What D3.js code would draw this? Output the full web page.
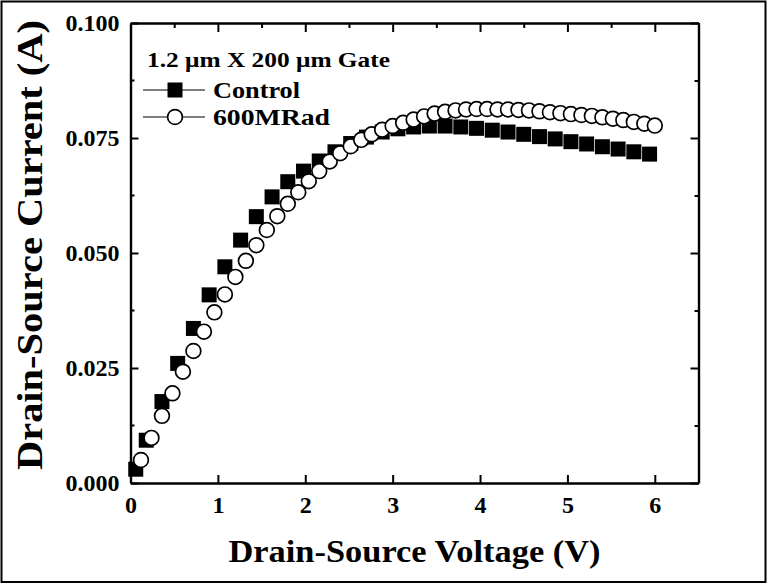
<!DOCTYPE html>
<html>
<head>
<meta charset="utf-8">
<script src="https://cdn.jsdelivr.net/npm/d3@7"></script>
<style>
  body { margin: 0; background: #fff; }
  text { font-family: "Liberation Serif", "Times New Roman", serif; font-weight: bold; fill: #000; }
</style>
</head>
<body>
<svg id="chart"></svg>
<script>
// Control device: filled squares (V, A)
const controlV = [0.06, 0.18, 0.36, 0.54, 0.72, 0.90, 1.08, 1.26, 1.44, 1.62, 1.80,
  1.98, 2.16, 2.34, 2.52, 2.70, 2.88, 3.06, 3.24, 3.42, 3.60, 3.78, 3.96, 4.14,
  4.32, 4.50, 4.68, 4.86, 5.04, 5.22, 5.40, 5.58, 5.76, 5.94];
const controlI = [0.0030, 0.0093, 0.0177, 0.0260, 0.0336, 0.0409, 0.0470, 0.0528, 0.0579, 0.0622, 0.0655,
  0.0678, 0.0700, 0.0720, 0.0738, 0.0752, 0.0763, 0.0770, 0.0774, 0.0776, 0.0776, 0.0774, 0.0771, 0.0767,
  0.0763, 0.0758, 0.0753, 0.0748, 0.0742, 0.0737, 0.0731, 0.0726, 0.0720, 0.0715];

// 600 MRad irradiated device: open circles
const radV = [0.12, 0.24, 0.36, 0.48, 0.60, 0.72, 0.84, 0.96, 1.08, 1.20,
  1.32, 1.44, 1.56, 1.68, 1.80, 1.92, 2.04, 2.16, 2.28, 2.40,
  2.52, 2.64, 2.76, 2.88, 3.00, 3.12, 3.24, 3.36, 3.48, 3.60,
  3.72, 3.84, 3.96, 4.08, 4.20, 4.32, 4.44, 4.56, 4.68, 4.80,
  4.92, 5.04, 5.16, 5.28, 5.40, 5.52, 5.64, 5.76, 5.88, 6.00];
const radI = [0.0050, 0.0098, 0.0146, 0.0195, 0.0242, 0.0287, 0.0329, 0.0371, 0.0410, 0.0448,
  0.0483, 0.0517, 0.0550, 0.0580, 0.0607, 0.0632, 0.0656, 0.0678, 0.0699, 0.0717,
  0.0732, 0.0746, 0.0758, 0.0768, 0.0776, 0.0783, 0.0790, 0.0797, 0.0803, 0.0807,
  0.0810, 0.0812, 0.0813, 0.0813, 0.0812, 0.0812, 0.0811, 0.0810, 0.0808, 0.0806,
  0.0804, 0.0802, 0.0800, 0.0798, 0.0795, 0.0792, 0.0789, 0.0785, 0.0781, 0.0777];

const xTicks = [0, 1, 2, 3, 4, 5, 6];
const yTicks = [0, 0.025, 0.05, 0.075, 0.1];
const xLabel = "Drain-Source Voltage (V)";
const yLabel = "Drain-Source Current (A)";
const legendTitle = "1.2 \u03bcm X 200 \u03bcm Gate";
const seriesNames = ["Control", "600MRad"];

const w = 767, h = 584;
const margin = { left: 130.5, right: 68.5, top: 23, bottom: 101 };

const svg = d3.select("#chart").attr("width", w).attr("height", h);

// outer frame
svg.append("rect")
  .attr("x", 1.5).attr("y", 1.5)
  .attr("width", w - 3).attr("height", h - 3.5)
  .attr("fill", "none").attr("stroke", "#000").attr("stroke-width", 2);

const x = d3.scaleLinear().domain([0, 6.5]).range([margin.left, w - margin.right]);
const y = d3.scaleLinear().domain([0, 0.1]).range([h - margin.bottom, margin.top]);

const fmt = d3.format(".3f");
const minorX = d3.range(0, 6.51, 0.5);
const minorY = d3.range(0, 0.1001, 0.0125);
const isMajorY = d => Math.abs(d / 0.025 - Math.round(d / 0.025)) < 1e-6;

// axes (ticks pointing inward)
const axBottom = svg.append("g").attr("transform", `translate(0,${y(0)})`)
  .call(d3.axisBottom(x).tickValues(xTicks).tickSizeInner(-8).tickSizeOuter(0).tickPadding(13).tickFormat(d3.format("d")));
const axTop = svg.append("g").attr("transform", `translate(0,${y(0.1)})`)
  .call(d3.axisTop(x).tickValues(minorX).tickSizeInner(0).tickSizeOuter(0).tickFormat(""));
const axLeft = svg.append("g").attr("transform", `translate(${x(0)},0)`)
  .call(d3.axisLeft(y).tickValues(yTicks).tickSizeInner(-8).tickSizeOuter(0).tickPadding(11).tickFormat(fmt));
const axRight = svg.append("g").attr("transform", `translate(${x(6.5)},0)`)
  .call(d3.axisRight(y).tickValues(minorY).tickSizeInner(0).tickSizeOuter(0).tickFormat(""));

// top/right ticks: majors longer, minors shorter
axTop.selectAll(".tick line").attr("y2", d => Number.isInteger(d) ? 9 : 5);
axRight.selectAll(".tick line").attr("x2", d => isMajorY(d) ? -8 : -4);

// left minor ticks
axLeft.selectAll(".minor").data(minorY.filter(d => !isMajorY(d)))
  .enter().append("line")
  .attr("class", "minor")
  .attr("x1", 0).attr("x2", 4)
  .attr("y1", d => y(d)).attr("y2", d => y(d))
  .attr("stroke", "#000").attr("stroke-width", 2);

[axBottom, axTop, axLeft, axRight].forEach(g => {
  g.select(".domain").attr("stroke", "#000").attr("stroke-width", 2.4);
  g.selectAll(".tick line").attr("stroke", "#000").attr("stroke-width", 2);
  g.selectAll(".tick text").attr("font-family", "Liberation Serif").attr("font-weight", "bold")
    .attr("font-size", 24).attr("fill", "#000");
});

// axis titles
svg.append("text")
  .attr("x", (x(0) + x(6.5)) / 2).attr("y", 562)
  .attr("text-anchor", "middle").attr("font-size", 31)
  .attr("textLength", 372).attr("lengthAdjust", "spacingAndGlyphs")
  .text(xLabel);

svg.append("text")
  .attr("transform", `translate(42,${(20 + 470) / 2}) rotate(-90)`)
  .attr("text-anchor", "middle").attr("font-size", 36)
  .attr("textLength", 450).attr("lengthAdjust", "spacingAndGlyphs")
  .text(yLabel);

const sq = 15, rad = 7.4;
const controlPts = controlV.map((v, i) => ({ v, i: controlI[i] }));
const radPts = radV.map((v, i) => ({ v, i: radI[i] }));

// control squares
svg.append("g").selectAll("rect").data(controlPts).enter().append("rect")
  .attr("x", d => x(d.v) - sq / 2).attr("y", d => y(d.i) - sq / 2)
  .attr("width", sq).attr("height", sq).attr("fill", "#000");

// irradiated circles on top
svg.append("g").selectAll("circle").data(radPts).enter().append("circle")
  .attr("cx", d => x(d.v)).attr("cy", d => y(d.i)).attr("r", rad)
  .attr("fill", "#fff").attr("stroke", "#000").attr("stroke-width", 1.7);

// legend
const lg = svg.append("g");
lg.append("text").attr("x", 147).attr("y", 67).attr("font-size", 22)
  .attr("textLength", 243).attr("lengthAdjust", "spacingAndGlyphs").text(legendTitle);

const rows = [{ y: 90, name: seriesNames[0], len: 87 }, { y: 117, name: seriesNames[1], len: 117 }];
rows.forEach((r, k) => {
  lg.append("line").attr("x1", 143).attr("x2", 205).attr("y1", r.y).attr("y2", r.y)
    .attr("stroke", "#000").attr("stroke-width", 1.2);
  if (k === 0) {
    lg.append("rect").attr("x", 175 - sq / 2).attr("y", r.y - sq / 2)
      .attr("width", sq).attr("height", sq).attr("fill", "#000");
  } else {
    lg.append("circle").attr("cx", 175).attr("cy", r.y).attr("r", rad)
      .attr("fill", "#fff").attr("stroke", "#000").attr("stroke-width", 1.7);
  }
  lg.append("text").attr("x", 213).attr("y", r.y + 8).attr("font-size", 23)
    .attr("textLength", r.len).attr("lengthAdjust", "spacingAndGlyphs").text(r.name);
});
</script>
</body>
</html>
